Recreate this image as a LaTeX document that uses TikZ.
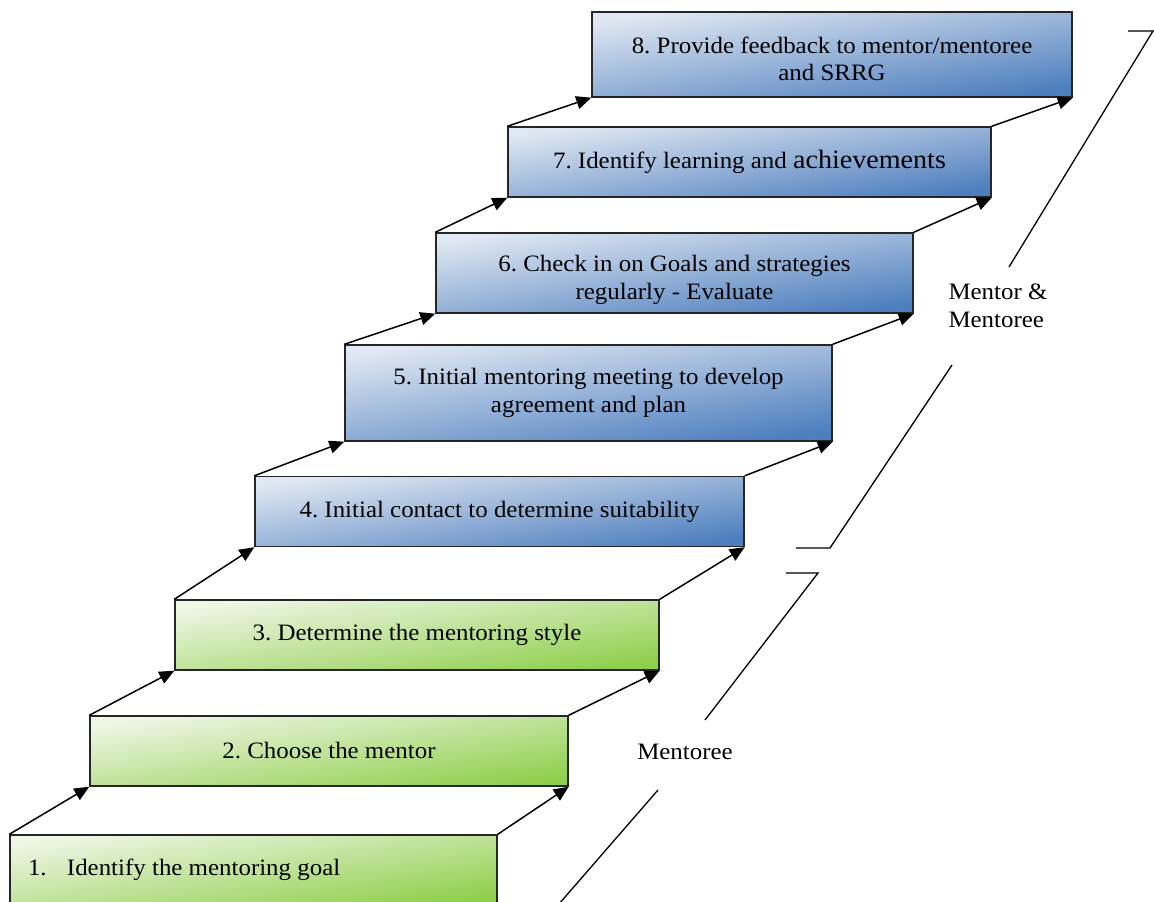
\documentclass[tikz,border=0pt]{standalone}
\usepackage{fontspec}
\setmainfont{Liberation Serif}[FakeStretch=1.06]
\usepackage{xcolor}
\usetikzlibrary{arrows.meta}

\definecolor{greenlight}{HTML}{EFF7E7}
\definecolor{greendark}{HTML}{8FCF4C}
\definecolor{bluelight}{HTML}{E0E8F3}
\definecolor{bluedark}{HTML}{4D7EBE}

\begin{document}
\frenchspacing
\begin{tikzpicture}[x=1pt,y=-1pt,
  tread/.style={draw=black!85, line width=1.4pt, minimum height=70pt, inner sep=0pt,
    align=center, font=\fontsize{23.5}{27.5}\selectfont},
  greentread/.style={tread, top color=greenlight, bottom color=greendark, shading angle=8.5},
  bluetread/.style={tread, top color=bluelight, bottom color=bluedark, shading angle=8.5},
  riser/.style={line width=1.5pt, -{Triangle[length=15pt,width=13pt]}},
  bracket/.style={line width=1.3pt},
  lbl/.style={font=\fontsize{23.5}{27.5}\selectfont, align=left}]
\useasboundingbox (0,0) rectangle (1154,902);

% steps
\node[greentread, minimum width=487pt] (s1) at (253.5,870) {\makebox[451pt][l]{\makebox[39pt][l]{1.}Identify the mentoring goal}};
\node[greentread, minimum width=478pt] (s2) at (329,751) {2. Choose the mentor};
\node[greentread, minimum width=484pt] (s3) at (417,635) {3. Determine the mentoring style};
\node[bluetread, minimum width=489pt] (s4) at (499.5,511.5) {4. Initial contact to determine suitability};
\node[bluetread, minimum width=487pt, minimum height=96pt] (s5) at (588.5,393) {5. Initial mentoring meeting to develop\\agreement and plan};
\node[bluetread, minimum width=477pt, minimum height=80pt] (s6) at (674.5,273) {\rule{0pt}{30pt}6. Check in on Goals and strategies\\regularly - Evaluate};
\node[bluetread, minimum width=483pt] (s7) at (749.5,162) {7. Identify learning and {\fontsize{26.5}{27.5}\selectfont achievements}};
\node[bluetread, minimum width=480pt, minimum height=85pt] (s8) at (832,54.5) {\rule{0pt}{25pt}8. Provide feedback to mentor/mentoree\\and SRRG};

% risers
\foreach \a/\b in {s1/s2,s2/s3,s3/s4,s4/s5,s5/s6,s6/s7,s7/s8}{
  \draw[riser] (\a.north west) -- (\b.south west);
  \draw[riser] (\a.north east) -- (\b.south east);
}

% groups
\node[lbl] (mlab) at (685,752) {Mentoree};
\node[lbl] (mmlab) at (998,306) {Mentor \&\\Mentoree};

\coordinate (m1) at (786,573);
\coordinate (m2) at (818,573);
\coordinate (m3) at (705,720);
\coordinate (m4) at (658,790);
\coordinate (m5) at (552,912);
\coordinate (t1) at (1128,31);
\coordinate (t2) at (1153,31);
\coordinate (t3) at (1009,267);
\coordinate (t4) at (952,365);
\coordinate (t5) at (830,548);
\coordinate (t6) at (796,548);

\draw[bracket] (m1) -- (m2) -- (m3);
\draw[bracket] (m4) -- (m5);
\draw[bracket] (t1) -- (t2) -- (t3);
\draw[bracket] (t4) -- (t5) -- (t6);
\end{tikzpicture}
\end{document}
